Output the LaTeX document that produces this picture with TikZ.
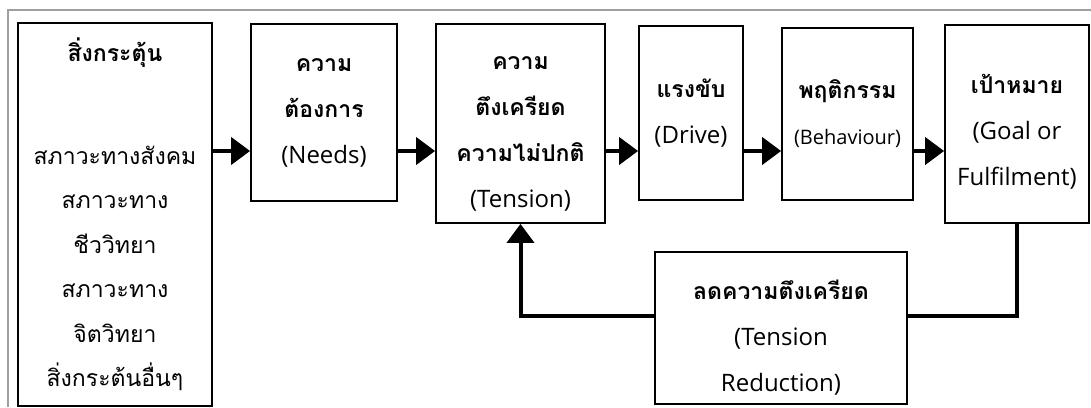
\documentclass[tikz,border=0pt]{standalone}
\usepackage{fontspec}
\setmainfont{Open Sans}
\newfontfamily\thaifont[Script=Thai,Scale=0.96]{Loma}
\usetikzlibrary{arrows.meta,positioning}

\newcommand{\thb}[1]{{\thaifont\bfseries #1}}
\newcommand{\thr}[1]{{\thaifont #1}}
\newcommand{\pad}[1]{\rule{0pt}{#1}}

\begin{document}
\begin{tikzpicture}[x=1pt,y=-1pt,
  stage/.style={draw=black,line width=1.8pt,fill=white,inner sep=0pt,
                font=\fontsize{24}{46}\selectfont,align=center},
  flow/.style={line width=4pt,-{Triangle[length=19pt,width=27pt]}},
  link/.style={line width=4pt},
  frame/.style={draw=gray!75,line width=2pt}
]
\useasboundingbox (0,0) rectangle (1091,407);

% page frame
\draw[frame] (8,407) -- (8,10) -- (1091,10);

% stages
\node[stage,minimum width=194pt,minimum height=383pt,
      font=\fontsize{24}{44.5}\selectfont] (stim) at (115,214.5)
  {\thb{สิ่งกระตุ้น}\\[58pt]\thr{สภาวะทางสังคม}\\\thr{สภาวะทาง}\\\thr{ชีววิทยา}\\
   \thr{สภาวะทาง}\\\thr{จิตวิทยา}\\\thr{สิ่งกระต้นอื่นๆ}};
\node[stage,minimum width=146pt,minimum height=177pt] (needs) at (324,112.5)
  {\thb{ความ}\\\thb{ต้องการ}\\(Needs)};
\node[stage,minimum width=169pt,minimum height=199pt] (tension) at (520.5,123.5)
  {\pad{33pt}\thb{ความ}\\\thb{ตึงเครียด}\\\thb{ความไม่ปกติ}\\(Tension)};
\node[stage,minimum width=104pt,minimum height=174pt] (drive) at (691,113)
  {\thb{แรงขับ}\\(Drive)};
\node[stage,minimum width=131pt,minimum height=172pt] (behav) at (847.5,114)
  {\thb{พฤติกรรม}\\{\fontsize{20}{20}\selectfont(Behaviour)}};
\node[stage,minimum width=144pt,minimum height=198pt] (goal) at (1017,124)
  {\pad{34pt}\thb{เป้าหมาย}\\(Goal or\\Fulfilment)};
\node[stage,minimum width=252pt,minimum height=152pt] (reduce) at (781,328)
  {\pad{38pt}\thb{ลดความตึงเครียด}\\(Tension\\Reduction)};

% main chain
\coordinate (row) at (0,151);
\draw[flow] (stim.east |- row) -- (needs.west |- row);
\draw[flow] (needs.east |- row) -- (tension.west |- row);
\draw[flow] (tension.east |- row) -- (drive.west |- row);
\draw[flow] (drive.east |- row) -- (behav.west |- row);
\draw[flow] (behav.east |- row) -- (goal.west |- row);

% feedback loop
\draw[link] (goal.south) |- ([yshift=12pt]reduce.east);
\draw[flow] ([yshift=12pt]reduce.west) -| (tension.south);

\end{tikzpicture}
\end{document}
